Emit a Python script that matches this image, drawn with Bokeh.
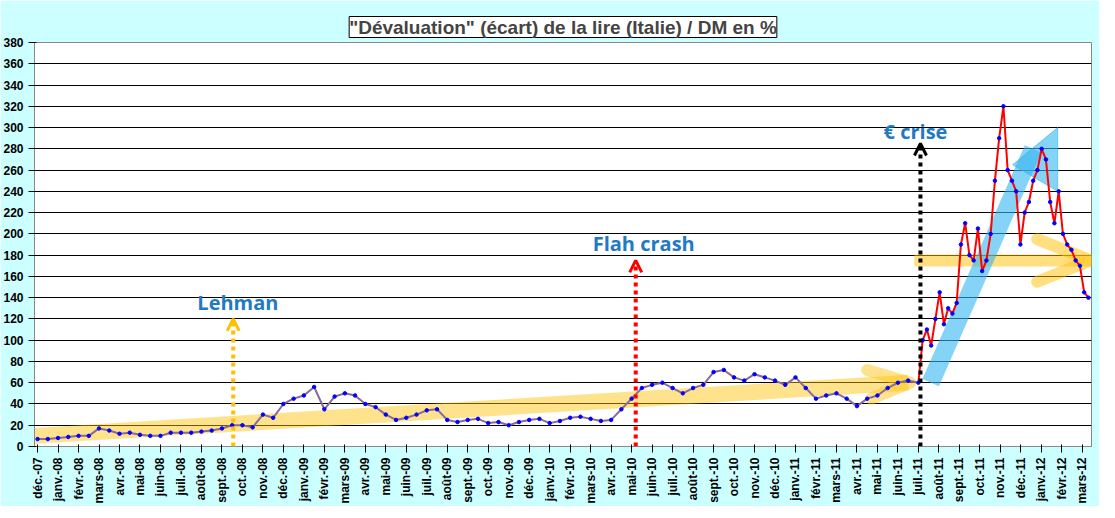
import numpy as np
from bokeh.plotting import figure
from bokeh.models import Title, FixedTicker, Label, Arrow, OpenHead
from bokeh.embed import file_html
from bokeh.resources import INLINE

months = ["déc.-07","janv.-08","févr.-08","mars-08","avr.-08","mai-08","juin-08","juil.-08","août-08","sept.-08","oct.-08","nov.-08",
          "déc.-08","janv.-09","févr.-09","mars-09","avr.-09","mai-09","juin-09","juil.-09","août-09","sept.-09","oct.-09","nov.-09",
          "déc.-09","janv.-10","févr.-10","mars-10","avr.-10","mai-10","juin-10","juil.-10","août-10","sept.-10","oct.-10","nov.-10",
          "déc.-10","janv.-11","févr.-11","mars-11","avr.-11","mai-11","juin-11","juil.-11","août-11","sept.-11","oct.-11","nov.-11",
          "déc.-11","janv.-12","févr.-12","mars-12"]

# half-monthly values dec-07 .. jun-11
early = [7,7, 8,9, 10,10, 17,15, 12,13, 11,10, 10,13, 13,13, 14,15, 17,20, 20,18, 30,27,
         40,45, 48,56, 35,47, 50,48, 40,37, 30,25, 27,30, 34,35, 25,23, 25,26, 22,23, 20,23,
         25,26, 22,24, 27,28, 26,24, 25,35, 45,55, 58,60, 55,50, 55,58, 70,72, 65,62, 68,65,
         62,58, 65,55, 45,48, 50,45, 38,45, 48,55, 60,62]
# weekly-ish values jul-11 .. mar-12
late = [60,100,110,95,120, 145,115,130,125, 135,190,210,180,175, 205,165,175,200,250,290,
        320,260,250,240, 190,220,230,250,260, 280,270,230,210,240, 200,190,185,175, 170,145,140]

x_early = np.arange(len(early)) * 0.5
x_late = np.linspace(43.0, 51.3, len(late))
x = np.concatenate([x_early, x_late])
y = np.array(early + late, dtype=float)

p = figure(width=1099, height=506, output_backend="svg", toolbar_location=None,
           x_range=(-0.15, 51.45), y_range=(0, 380),
           background_fill_color="white", border_fill_color="#ccffff",
           min_border_left=29, min_border_right=8, min_border_top=42, min_border_bottom=60)
p.outline_line_color="#888888"
p.yaxis.ticker = FixedTicker(ticks=list(range(0, 381, 20)))
p.xaxis.ticker = FixedTicker(ticks=list(range(len(months))))
p.xaxis.major_label_overrides = {i: m for i, m in enumerate(months)}
p.xaxis.major_label_orientation = np.pi/2
for ax in (p.xaxis, p.yaxis):
    ax.major_label_text_font = "Arial"
    ax.major_label_text_font_style = "bold"
    ax.major_label_text_font_size = "12px"
    ax.major_label_text_color = "black"
    ax.axis_line_color = "#888888"
    ax.minor_tick_line_color = None
p.xgrid.grid_line_color = None
p.ygrid.grid_line_color = "black"
p.ygrid.grid_line_width = 1

# trend bands
p.line([-0.15, 42.5], [10, 60], line_width=16, color="#ffc000", alpha=0.45)
p.line([40.5, 42.6, 40.7], [72, 60, 45], line_width=12, color="#ffc000", alpha=0.45, line_join="round", line_cap="round")
p.line([42.8, 51.45], [175, 175], line_width=12, color="#ffc000", alpha=0.5)
p.line([48.8, 51.4, 48.8], [195, 175, 155], line_width=12, color="#ffc000", alpha=0.5, line_join="round", line_cap="round")
p.line([43.6, 48.6], [60, 280], line_width=18, color="#33b5f0", alpha=0.6)
p.patch([47.6, 49.8, 49.8], [265, 300, 240], color="#33b5f0", alpha=0.6)

p.line(x[:len(early)+1], y[:len(early)+1], color="#8a6a9a", line_width=2)
p.line(x[len(early):], y[len(early):], color="red", line_width=2)
p.scatter(x, y, size=3.5, color="blue")

# event arrows
for xe, ye, col in [(9.55, 120, "#ffc000"), (29.2, 175, "red"), (43.1, 285, "black")]:
    p.add_layout(Arrow(end=OpenHead(size=12, line_color=col, line_width=3),
                       x_start=xe, y_start=0, x_end=xe, y_end=ye,
                       line_color=col, line_width=4, line_dash="4 4"))
for xt, yt, t in [(7.8, 123, "Lehman"), (27.1, 178, "Flah crash"), (41.3, 284, "€ crise")]:
    p.add_layout(Label(x=xt, y=yt, text=t, text_font="Open Sans", text_font_style="bold",
                       text_font_size="20px", text_color="#1f7ac4"))

t = Title(text='"Dévaluation" (écart) de la lire (Italie) / DM en %', align="center",
          text_font="Arial", text_font_style="bold", text_font_size="19px",
          background_fill_color="white", border_line_color="black", offset=0)
p.add_layout(t, "above")

open("out.html", "w").write(file_html(p, INLINE))
